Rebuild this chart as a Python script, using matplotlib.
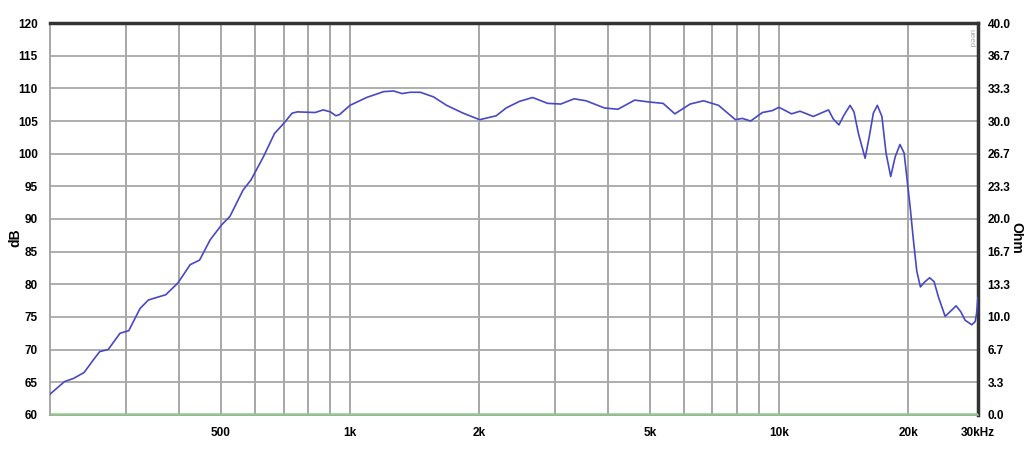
import matplotlib.pyplot as plt
from matplotlib.ticker import FixedLocator, NullLocator

plt.rcParams['font.family'] = ['Liberation Sans', 'DejaVu Sans']

# frequency response (Hz, dB)
freq = [200, 216, 227, 240, 252, 261, 273, 291, 305, 324, 339, 372, 397, 424, 446,
        472, 502, 525, 563, 588, 628, 667, 700, 733, 754, 829, 866, 900, 927, 946,
        1000, 1093, 1198, 1264, 1322, 1382, 1458, 1565, 1680, 1836, 2006, 2192, 2313,
        2482, 2665, 2890, 3100, 3330, 3550, 3918, 4213, 4610, 5000, 5370, 5720, 6210,
        6670, 7230, 7920, 8210, 8590, 9150, 9660, 10000, 10700, 11200, 12020, 13050,
        13390, 13800, 14180, 14650, 14960, 15320, 15880, 16240, 16600, 16960, 17380,
        17770, 18220, 18660, 19150, 19580, 19860, 20220, 20580, 20960, 21370, 21900,
        22460, 23000, 23530, 24400, 25060, 25880, 26540, 27160, 28160, 28680, 28900,
        29100]
spl = [63.2, 65.1, 65.6, 66.5, 68.4, 69.7, 70.0, 72.5, 72.9, 76.3, 77.6, 78.4, 80.2, 83.0, 83.7,
       86.8, 89.1, 90.4, 94.4, 96.0, 99.5, 103.1, 104.6, 106.2, 106.4, 106.3, 106.7, 106.4, 105.8, 106.0,
       107.4, 108.6, 109.5, 109.6, 109.2, 109.4, 109.4, 108.7, 107.4, 106.2, 105.2, 105.8, 107.0,
       108.0, 108.6, 107.7, 107.6, 108.4, 108.1, 107.0, 106.8, 108.2, 107.9, 107.7, 106.1, 107.6,
       108.1, 107.4, 105.2, 105.4, 105.0, 106.3, 106.6, 107.1, 106.1, 106.5, 105.7, 106.7,
       105.3, 104.4, 105.9, 107.4, 106.4, 103.1, 99.3, 102.6, 106.2, 107.4, 105.7,
       100.1, 96.5, 99.5, 101.4, 100.1, 96.5, 91.9, 86.8, 82.0, 79.6, 80.4,
       81.0, 80.4, 78.1, 75.1, 75.8, 76.7, 75.8, 74.5, 73.8, 74.3, 75.6,
       78.0]

# impedance trace (Ohm), sits on the floor
freq_z = [200, 29100]
ohm = [0.1, 0.1]

xticks = [500, 1000, 2000, 5000, 10000, 20000, 29100]
xlabels = ['500', '1k', '2k', '5k', '10k', '20k', '30kHz']
grid_f = [300, 400, 500, 600, 700, 800, 900, 1000, 2000, 3000, 4000, 5000,
          6000, 7000, 8000, 9000, 10000, 20000]
db_ticks = list(range(60, 121, 5))
ohm_ticks = [i * 40 / 12 for i in range(13)]

fig = plt.figure(figsize=(10.24, 4.61), dpi=100)
ax = fig.add_axes([0.049, 0.1, 0.906, 0.85])

ax.set_xscale('log')
ax.set_xlim(200, 29100)
ax.set_ylim(60, 120)

for f in grid_f:
    ax.axvline(f, color='#a0a0a0', lw=1.3, zorder=1)
for d in db_ticks:
    ax.axhline(d, color='#a8a8a8', lw=1.3, zorder=1)

ax.plot(freq, spl, color='#4848c4', lw=1.2, zorder=5)

ax.xaxis.set_major_locator(FixedLocator(xticks))
ax.xaxis.set_minor_locator(NullLocator())
ax.set_xticklabels(xlabels)
ax.set_yticks(db_ticks)
ax.tick_params(axis='both', length=0, labelsize=8.5, pad=9)
for t in ax.get_xticklabels() + ax.get_yticklabels():
    t.set_fontweight('bold')

for s in ['left', 'bottom']:
    ax.spines[s].set_color('#a0a0a0')
    ax.spines[s].set_linewidth(1.3)
ax.spines['top'].set_color('#333333')
ax.spines['top'].set_linewidth(2.5)
ax.spines['right'].set_color('#333333')
ax.spines['right'].set_linewidth(2.5)

ax2 = ax.twinx()
ax2.set_ylim(0, 40)
ax2.plot(freq_z, ohm, color='#88d080', lw=1.8, zorder=4)
ax2.set_yticks(ohm_ticks)
ax2.set_yticklabels([f'{v:.1f}' for v in ohm_ticks])
ax2.tick_params(axis='y', length=0, labelsize=8.5, pad=7)
for t in ax2.get_yticklabels():
    t.set_fontweight('bold')
for s in ax2.spines.values():
    s.set_visible(False)

fig.text(0.008, 0.485, 'dB', rotation=90, fontsize=10, fontweight='bold',
         ha='left', va='center')
fig.text(0.9995, 0.485, 'Ohm', rotation=-90, fontsize=10, fontweight='bold',
         ha='right', va='center')

ax.text(0.993, 0.985, 'ueed', transform=ax.transAxes, rotation=-90,
        fontsize=6, color='#aaaaaa', ha='center', va='top')

fig.savefig('out.png', dpi=100)
